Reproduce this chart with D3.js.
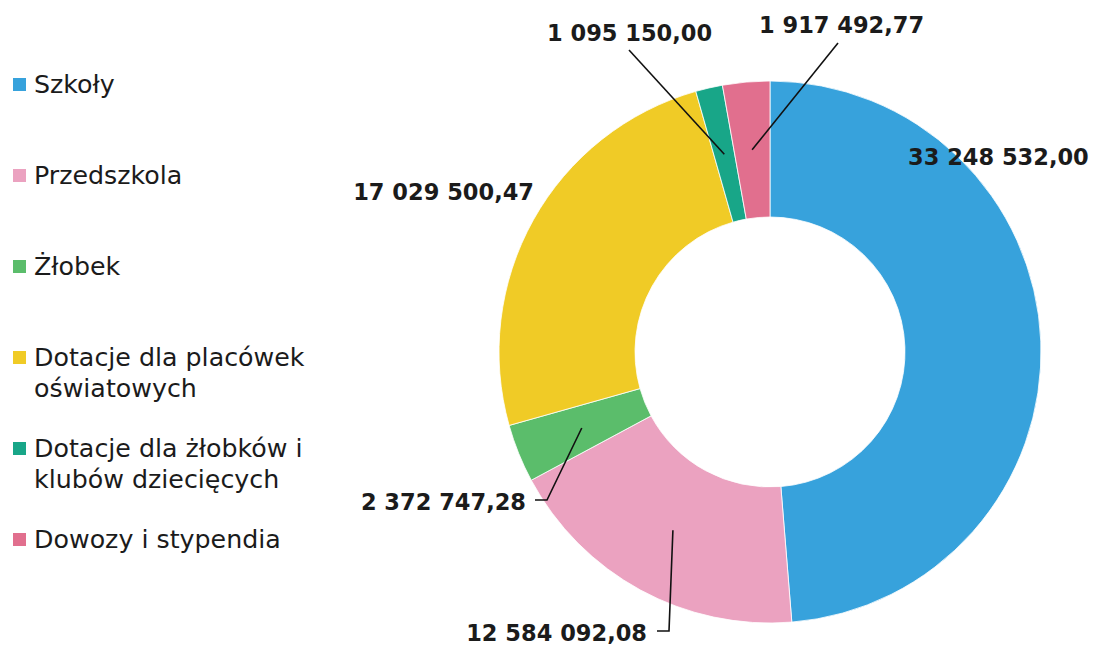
<!DOCTYPE html>
<html>
<head>
<meta charset="utf-8">
<script src="https://cdn.jsdelivr.net/npm/d3@7/dist/d3.min.js"></script>
<style>
  html, body { margin: 0; padding: 0; background: #fff; }
  svg { display: block; }
</style>
</head>
<body>
<svg id="chart" width="1096" height="646"></svg>
<script>
// ---- data ----
const categories = [
  "Szkoły",
  "Przedszkola",
  "Żłobek",
  "Dotacje dla placówek oświatowych",
  "Dotacje dla żłobków i klubów dziecięcych",
  "Dowozy i stypendia"
];
const legendLines = [
  ["Szkoły"],
  ["Przedszkola"],
  ["Żłobek"],
  ["Dotacje dla placówek", "oświatowych"],
  ["Dotacje dla żłobków i", "klubów dziecięcych"],
  ["Dowozy i stypendia"]
];
const values = [33248532.00, 12584092.08, 2372747.28, 17029500.47, 1095150.00, 1917492.77];
const colors = ["#37a2dc", "#eba2c0", "#5bbd6b", "#f0cb26", "#18a688", "#e16f8e"];

// ---- layout (label anchors / leader elbows) ----
const labelLayout = [
  { x: 908, y: 165, anchor: "start", path: [] },
  { x: 647, y: 641, anchor: "end",   path: [[669, 631], [657, 631]] },
  { x: 526, y: 510, anchor: "end",   path: [[547, 500], [535, 500]] },
  { x: 534, y: 200, anchor: "end",   path: [] },
  { x: 547, y: 41,  anchor: "start", path: [[629, 50]] },
  { x: 759, y: 33,  anchor: "start", path: [[838, 43]] }
];

const svg = d3.select("#chart");
const cx = 770, cy = 352, rOuter = 271, rInner = 135;

const fmt = d3.formatLocale({ decimal: ",", thousands: " ", grouping: [3], currency: ["", ""] }).format(",.2f");

const pie = d3.pie().sort(null).value(d => d);
const arcs = pie(values);
const arc = d3.arc().innerRadius(rInner).outerRadius(rOuter);

const g = svg.append("g").attr("transform", `translate(${cx},${cy})`);
g.selectAll("path.slice")
  .data(arcs)
  .join("path")
  .attr("class", "slice")
  .attr("d", arc)
  .attr("fill", (d, i) => colors[i])
  .attr("stroke", "#ffffff")
  .attr("stroke-width", 0.8);

// leader lines
const line = d3.line();
arcs.forEach((d, i) => {
  const L = labelLayout[i];
  if (!L.path.length) return;
  const c = arc.centroid(d);
  const pts = [[cx + c[0], cy + c[1]], ...L.path];
  svg.append("path")
    .attr("d", line(pts))
    .attr("fill", "none")
    .attr("stroke", "#111")
    .attr("stroke-width", 1.6);
});

// value labels
svg.selectAll("text.val")
  .data(arcs)
  .join("text")
  .attr("class", "val")
  .attr("x", (d, i) => labelLayout[i].x)
  .attr("y", (d, i) => labelLayout[i].y)
  .attr("text-anchor", (d, i) => labelLayout[i].anchor)
  .attr("font-family", "'DejaVu Sans', Verdana, sans-serif")
  .attr("font-weight", "bold")
  .attr("font-size", 22.5)
  .attr("fill", "#1b1b1b")
  .text(d => fmt(d.value));

// legend
const legend = svg.append("g").attr("class", "legend");
const baselines = [93, 184, 275, 366, 457, 548];
categories.forEach((c, i) => {
  const gy = baselines[i];
  legend.append("rect")
    .attr("x", 13).attr("y", gy - 15)
    .attr("width", 13).attr("height", 13)
    .attr("fill", colors[i]);
  const t = legend.append("text")
    .attr("x", 34).attr("y", gy)
    .attr("font-family", "'DejaVu Sans', Verdana, sans-serif")
    .attr("font-size", 25.3)
    .attr("fill", "#1b1b1b");
  legendLines[i].forEach((ln, j) => {
    t.append("tspan").attr("x", 34).attr("y", gy + j * 31).text(ln);
  });
});
</script>
</body>
</html>
